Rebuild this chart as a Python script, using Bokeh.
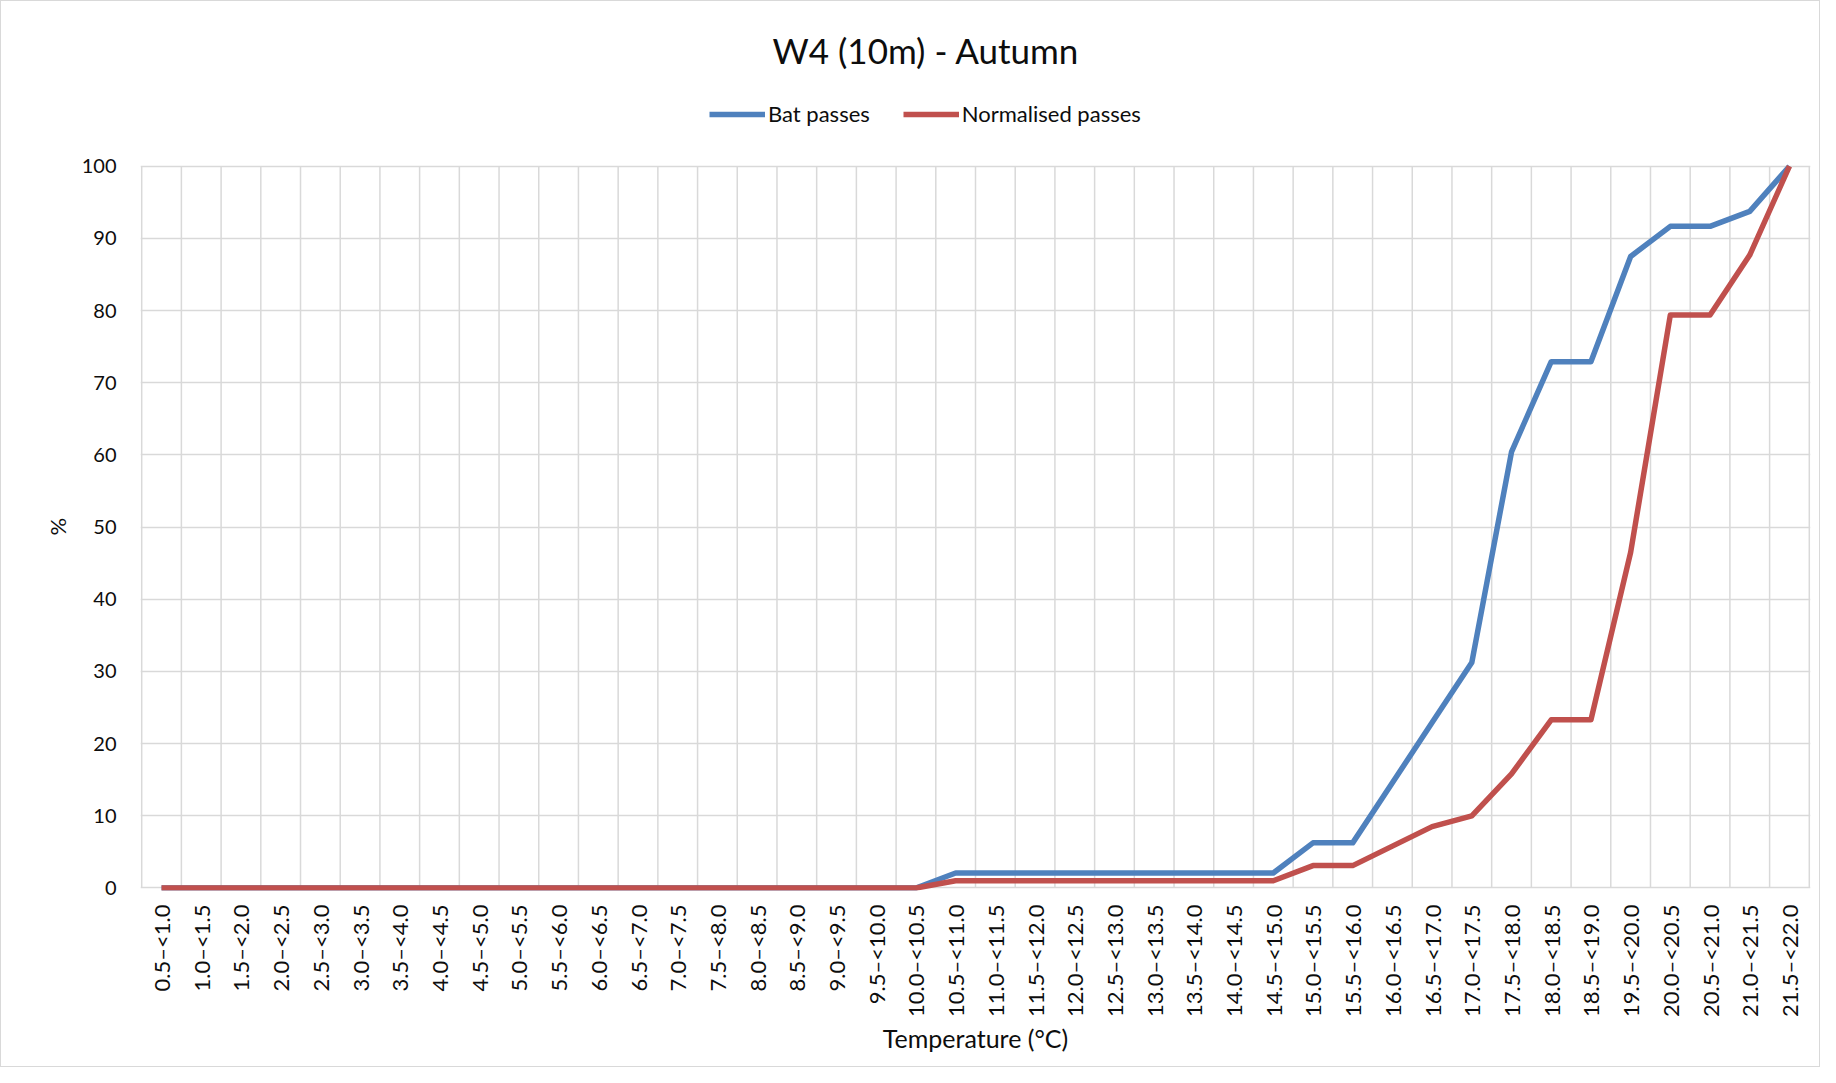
from math import pi
from bokeh.plotting import figure
from bokeh.models import Range1d, FixedTicker, Legend, LegendItem, Title
from bokeh.embed import file_html
from bokeh.resources import INLINE

categories = [
    "0.5–<1.0", "1.0–<1.5", "1.5–<2.0", "2.0–<2.5", "2.5–<3.0", "3.0–<3.5",
    "3.5–<4.0", "4.0–<4.5", "4.5–<5.0", "5.0–<5.5", "5.5–<6.0", "6.0–<6.5",
    "6.5–<7.0", "7.0–<7.5", "7.5–<8.0", "8.0–<8.5", "8.5–<9.0", "9.0–<9.5",
    "9.5–<10.0", "10.0–<10.5", "10.5–<11.0", "11.0–<11.5", "11.5–<12.0",
    "12.0–<12.5", "12.5–<13.0", "13.0–<13.5", "13.5–<14.0", "14.0–<14.5",
    "14.5–<15.0", "15.0–<15.5", "15.5–<16.0", "16.0–<16.5", "16.5–<17.0",
    "17.0–<17.5", "17.5–<18.0", "18.0–<18.5", "18.5–<19.0", "19.5–<20.0",
    "20.0–<20.5", "20.5–<21.0", "21.0–<21.5", "21.5–<22.0",
]

bat_passes = [
    0, 0, 0, 0, 0, 0, 0, 0, 0, 0, 0, 0, 0, 0, 0, 0, 0, 0, 0, 0,
    2.08, 2.08, 2.08, 2.08, 2.08, 2.08, 2.08, 2.08, 2.08,
    6.25, 6.25, 14.58, 22.92, 31.25, 60.42, 72.92, 72.92,
    87.5, 91.67, 91.67, 93.75, 100,
]

normalised_passes = [
    0, 0, 0, 0, 0, 0, 0, 0, 0, 0, 0, 0, 0, 0, 0, 0, 0, 0, 0, 0,
    1.0, 1.0, 1.0, 1.0, 1.0, 1.0, 1.0, 1.0, 1.0,
    3.1, 3.1, 5.8, 8.5, 10.0, 15.8, 23.3, 23.3,
    46.5, 79.4, 79.4, 87.7, 100,
]

y_ticks = [0, 10, 20, 30, 40, 50, 60, 70, 80, 90, 100]

title_text = "W4 (10m) - Autumn"
x_title = "Temperature (°C)"
y_title = "%"
series_names = ["Bat passes", "Normalised passes"]
series_colors = ["#4F81BD", "#C0504D"]

FONT = "Lato"
TXT = "#0d0d0d"
GRID = "#d9d9d9"

x_idx = list(range(len(categories)))
y_min, y_max = y_ticks[0], y_ticks[-1]

# frame extends above 100 so the legend (drawn inside the frame) sits above the grid
p = figure(
    width=1820, height=1067, output_backend="svg", toolbar_location=None,
    x_range=Range1d(-0.53, len(categories) - 0.47),
    y_range=Range1d(-0.35, 109.8),
    min_border_left=139, min_border_right=11,
    min_border_top=93, min_border_bottom=178,
)
p.outline_line_color = None
p.background_fill_color = "white"
p.border_fill_color = "white"
p.styles = {"border": "1px solid #d9d9d9"}

p.title.text = title_text
p.title.text_font = FONT
p.title.text_font_size = "35px"
p.title.text_font_style = "normal"
p.title.text_color = TXT
p.title.align = "left"
p.title.offset = 632
p.title.standoff = 50

# grids: vertical lines at category boundaries, limited to the 0-100 value span
p.xgrid.visible = False
bounds = [i - 0.5 for i in range(len(categories) + 1)]
p.segment(x0=bounds, y0=[y_min] * len(bounds), x1=bounds, y1=[y_max] * len(bounds),
          line_color=GRID, line_width=1.5)
p.ygrid.ticker = FixedTicker(ticks=y_ticks)
p.ygrid.grid_line_color = GRID
p.ygrid.grid_line_width = 1.5

# x axis
xa = p.xaxis[0]
xa.ticker = FixedTicker(ticks=x_idx)
xa.major_label_overrides = {i: c for i, c in zip(x_idx, categories)}
xa.major_label_orientation = pi / 2
xa.major_label_text_font = FONT
xa.major_label_text_font_size = "22px"
xa.major_label_text_color = TXT
xa.major_label_standoff = 8
xa.major_tick_line_color = None
xa.minor_tick_line_color = None
xa.axis_line_color = None
xa.axis_label = x_title
xa.axis_label_text_font = FONT
xa.axis_label_text_font_size = "25px"
xa.axis_label_text_font_style = "normal"
xa.axis_label_text_color = TXT
xa.axis_label_standoff = 3

# y axis
ya = p.yaxis[0]
ya.ticker = FixedTicker(ticks=y_ticks)
ya.major_label_text_font = FONT
ya.major_label_text_font_size = "20px"
ya.major_label_text_color = TXT
ya.major_label_standoff = 18
ya.major_tick_line_color = None
ya.minor_tick_line_color = None
ya.axis_line_color = None

# y-axis title, placed level with the middle of the 0-100 span
y_label = Title(text=y_title, align="left", offset=355, standoff=16,
                text_font=FONT, text_font_size="22px", text_font_style="normal",
                text_color=TXT)
p.add_layout(y_label, "left")

r1 = p.line(x_idx, bat_passes, line_color=series_colors[0], line_width=5.5, line_join="round")
r2 = p.line(x_idx, normalised_passes, line_color=series_colors[1], line_width=5.5, line_join="round")

legend = Legend(
    items=[LegendItem(label=series_names[0], renderers=[r1]),
           LegendItem(label=series_names[1], renderers=[r2])],
    orientation="horizontal",
    location=(569, 763),
    border_line_color=None,
    background_fill_alpha=0,
    padding=0, margin=0, spacing=33,
    glyph_width=56, glyph_height=26, label_height=26,
    label_standoff=3,
    label_text_font=FONT, label_text_font_size="22px",
    label_text_color=TXT,
)
p.add_layout(legend, "center")

open("out.html", "w").write(file_html(p, INLINE))
